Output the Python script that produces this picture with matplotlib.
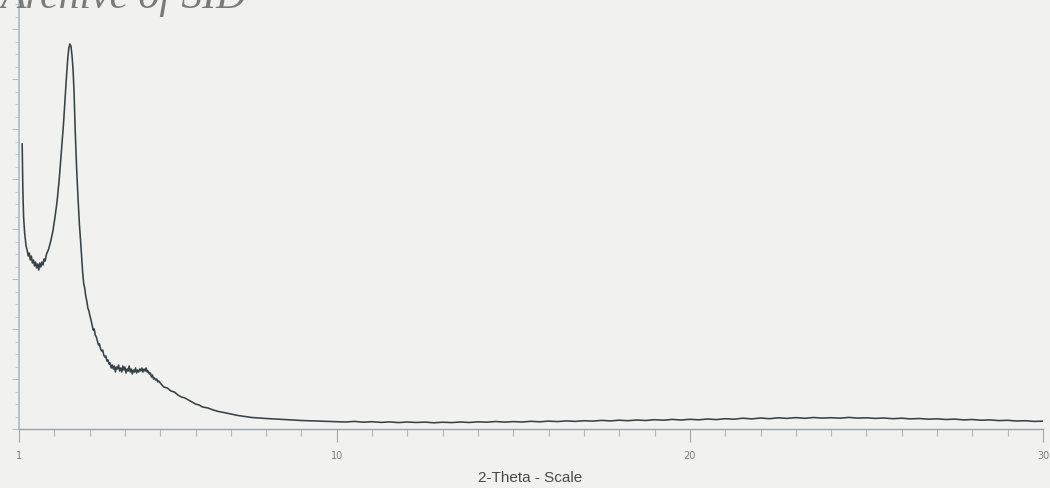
import matplotlib
matplotlib.use("Agg")
import matplotlib.pyplot as plt
from matplotlib.ticker import FixedLocator, MultipleLocator, NullFormatter

# XRD scan: 2-theta (deg) vs. intensity (arb. counts)
# low-angle region: scatter tail, main reflection and the shoulder
two_theta_low = [
    1.09, 1.10, 1.11, 1.13, 1.16, 1.20, 1.23, 1.26, 1.29, 1.32, 1.35, 1.38,
    1.41, 1.44, 1.47, 1.50, 1.53, 1.56, 1.59, 1.62, 1.65, 1.68, 1.71, 1.74,
    1.78, 1.84, 1.90, 1.96, 2.02, 2.08, 2.14, 2.18, 2.22, 2.26, 2.30, 2.34,
    2.38, 2.41, 2.44, 2.47, 2.50, 2.53, 2.56, 2.59, 2.63, 2.67, 2.71, 2.75,
    2.80, 2.83, 2.86, 2.89, 2.92, 2.95, 2.98, 3.01, 3.04, 3.07, 3.10, 3.13,
    3.16, 3.19, 3.22, 3.25, 3.28, 3.31, 3.34, 3.37, 3.40, 3.43, 3.46, 3.49,
    3.52, 3.55, 3.58, 3.61, 3.64, 3.67, 3.70, 3.73, 3.76, 3.79, 3.82, 3.85,
    3.88, 3.91, 3.94, 3.97, 4.00, 4.03, 4.06, 4.09, 4.12, 4.15, 4.18, 4.21,
    4.24, 4.27, 4.30, 4.33, 4.36, 4.39, 4.42, 4.45, 4.48, 4.51, 4.54, 4.57,
    4.60, 4.63, 4.66, 4.69, 4.72, 4.75, 4.78, 4.81, 4.84, 4.87, 4.90, 4.93,
    4.96, 5.00,
]
counts_low = [
    285, 262, 238, 212, 196, 183, 179, 173, 176, 169, 173, 166,
    169, 163, 167, 161, 165, 159, 166, 162, 167, 164, 170, 168,
    175, 180, 188, 198, 212, 228, 250, 268, 285, 305, 328, 350,
    370, 381, 385, 383, 374, 360, 336, 300, 262, 232, 205, 185,
    158, 146, 141, 133, 128, 121, 118, 113, 109, 104, 99, 100,
    94, 92, 88, 84, 85, 80, 78, 79, 74, 72, 73, 68,
    69, 65, 66, 61, 64, 60, 63, 57, 62, 60, 64, 58,
    61, 57, 63, 59, 62, 56, 60, 58, 63, 57, 60, 55,
    59, 57, 61, 56, 59, 57, 60, 58, 61, 57, 60, 58,
    61, 57, 58, 55, 56, 52, 54, 50, 51, 49, 50, 47,
    48, 46,
]
# high-angle region: decaying background and broad amorphous hump
two_theta_high = [
    5.1, 5.2, 5.3, 5.4, 5.5, 5.6, 5.7, 5.8, 5.9, 6.0, 6.1, 6.2, 6.35, 6.5,
    6.65, 6.8, 7.0, 7.2, 7.4, 7.6, 7.8, 8.0, 8.25, 8.5, 8.75, 9.0, 9.25,
    9.5, 9.75, 10.0, 10.25, 10.5, 10.75, 11.0, 11.25, 11.5, 11.75, 12.0,
    12.25, 12.5, 12.75, 13.0, 13.25, 13.5, 13.75, 14.0, 14.25, 14.5, 14.75,
    15.0, 15.25, 15.5, 15.75, 16.0, 16.25, 16.5, 16.75, 17.0, 17.25, 17.5,
    17.75, 18.0, 18.25, 18.5, 18.75, 19.0, 19.25, 19.5, 19.75, 20.0, 20.25,
    20.5, 20.75, 21.0, 21.25, 21.5, 21.75, 22.0, 22.25, 22.5, 22.75, 23.0,
    23.25, 23.5, 23.75, 24.0, 24.25, 24.5, 24.75, 25.0, 25.25, 25.5, 25.75,
    26.0, 26.25, 26.5, 26.75, 27.0, 27.25, 27.5, 27.75, 28.0, 28.25, 28.5,
    28.75, 29.0, 29.25, 29.5, 29.75, 30.0,
]
counts_high = [
    42, 41, 38, 37, 34, 32, 31, 29, 27, 25, 24, 22, 21, 19,
    17.5, 16.5, 15, 13.5, 12.5, 11.5, 11, 10.5, 10, 9.5, 9, 8.5, 8.2,
    7.8, 7.6, 7.4, 7.0, 7.6, 6.8, 7.3, 6.6, 7.1, 6.4, 7.0,
    6.5, 6.9, 6.2, 6.8, 6.4, 7.0, 6.5, 7.2, 6.8, 7.5, 6.9,
    7.4, 7.0, 7.7, 7.2, 7.9, 7.4, 8.1, 7.6, 8.3, 7.9, 8.6,
    8.1, 8.8, 8.3, 9.0, 8.5, 9.3, 8.8, 9.6, 9.0, 9.7, 9.2,
    10.0, 9.4, 10.3, 9.8, 10.8, 10.1, 11.0, 10.3, 11.2, 10.6, 11.4,
    10.7, 11.5, 10.9, 11.3, 10.8, 11.6, 10.9, 11.2, 10.6, 11.0, 10.3,
    10.8, 10.1, 10.5, 9.8, 10.2, 9.5, 9.9, 9.1, 9.5, 8.8, 9.1,
    8.4, 8.7, 8.0, 8.3, 7.6, 7.8,
]

x_major = [1, 10, 20, 30]
x_major_labels = ["1", "10", "20", "30"]

BG = "#f1f1ef"
TRACE = "#374247"

fig = plt.figure(figsize=(10.5, 4.89), dpi=100, facecolor=BG)
ax = fig.add_axes([19 / 1050, 1 - 430 / 489, 1024 / 1050, 430 / 489])
ax.set_facecolor(BG)

ax.plot(two_theta_low + two_theta_high, counts_low + counts_high,
        color=TRACE, lw=1.15, solid_joinstyle="round")

ax.set_xlim(1, 30)
ax.set_ylim(0, 430)

for side in ("top", "right"):
    ax.spines[side].set_visible(False)
ax.spines["left"].set_color("#a9bcc6")
ax.spines["left"].set_linewidth(1.2)
ax.spines["bottom"].set_color("#9aa4a8")
ax.spines["bottom"].set_linewidth(1.0)

ax.xaxis.set_major_locator(FixedLocator(x_major))
ax.set_xticklabels(x_major_labels)
ax.xaxis.set_minor_locator(MultipleLocator(1))
ax.tick_params(axis="x", which="major", direction="out", length=9, width=0.8,
               color="#a0a8ac", labelsize=7, labelcolor="#7d7d7d", pad=6)
ax.tick_params(axis="x", which="minor", direction="out", length=5, width=0.8,
               color="#b0b8bc")

ax.yaxis.set_major_locator(MultipleLocator(50))
ax.yaxis.set_minor_locator(MultipleLocator(12.5))
ax.yaxis.set_major_formatter(NullFormatter())
ax.tick_params(axis="y", which="major", direction="out", length=5, width=0.7,
               color="#b4bcc0")
ax.tick_params(axis="y", which="minor", direction="out", length=3, width=0.6,
               color="#c0c6c9")

fig.text(530 / 1050, 1 - 478 / 489, "2-Theta - Scale", ha="center",
         va="center", fontsize=11, color="#4a4a4a", family="Liberation Sans")

# header line of the page, clipped by the top edge
fig.text(0.0, 1 - 8 / 489, "Archive of SID", ha="left", va="baseline",
         fontsize=30, style="italic", color="#7a7a7a",
         family="Liberation Serif")

fig.savefig("out.png", dpi=100, facecolor=BG)
